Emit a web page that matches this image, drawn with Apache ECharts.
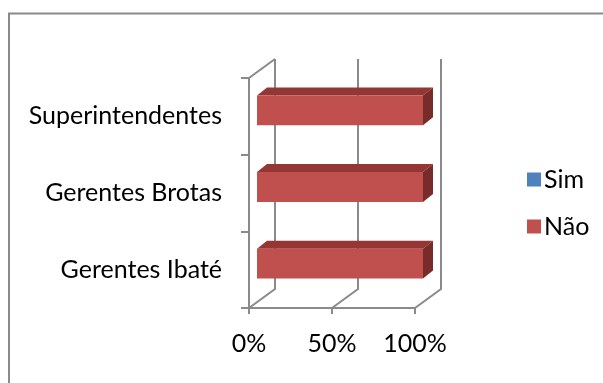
<!DOCTYPE html>
<html>
<head>
<meta charset="utf-8">
<script src="https://cdn.jsdelivr.net/npm/echarts@6/dist/echarts.min.js"></script>
<style>
  html, body { margin: 0; padding: 0; background: #fff; }
  #chart { width: 603px; height: 383px; }
</style>
</head>
<body>
<div id="chart"></div>
<script>
// Survey answers per group, in percent
const categories = ['Gerentes Ibaté', 'Gerentes Brotas', 'Superintendentes'];
const sim = [0, 0, 0];
const nao = [100, 100, 100];
const xTicks = [0, 50, 100];

// 3D look: depth of the floor/back wall and of each bar, in pixels
const WALL_DX = 26, WALL_DY = -19;
const BAR_OX = 8, BAR_OY = -6;
const BAR_DX = 10, BAR_DY = -8;
const GRID_COLOR = '#8a8a8a';
const FONT = 'Lato';
const FONT_SIZE = 25;

const chart = echarts.init(document.getElementById('chart'));

function barRenderer(front, top, side) {
  return function (params, api) {
    const start = api.value(0), end = api.value(1), cat = api.value(2);
    if (end - start <= 0) return null;
    const p0 = api.coord([start, cat]);
    const p1 = api.coord([end, cat]);
    const band = api.size([0, 1])[1];
    const h = band * 0.39;
    const x = p0[0] + BAR_OX;
    const y = p0[1] + BAR_OY - h / 2;
    const w = p1[0] - p0[0];
    return {
      type: 'group',
      children: [
        { type: 'polygon', shape: { points: [[x, y], [x + w, y], [x + w + BAR_DX, y + BAR_DY], [x + BAR_DX, y + BAR_DY]] },
          style: { fill: top } },
        { type: 'polygon', shape: { points: [[x + w, y], [x + w + BAR_DX, y + BAR_DY], [x + w + BAR_DX, y + h + BAR_DY], [x + w, y + h]] },
          style: { fill: side } },
        { type: 'rect', shape: { x: x, y: y, width: w, height: h }, style: { fill: front } }
      ]
    };
  };
}

const simData = categories.map((c, i) => [0, sim[i], i]);
const naoData = categories.map((c, i) => [sim[i], sim[i] + nao[i], i]);
const frameData = xTicks.map(v => [v, 0]);

const option = {
  animation: false,
  textStyle: { fontFamily: FONT, color: '#000' },
  graphic: [{
    type: 'rect', silent: true,
    shape: { x: 9, y: 13.5, width: 620, height: 400 },
    style: { fill: 'none', stroke: GRID_COLOR, lineWidth: 2 }
  }],
  legend: {
    data: ['Sim', 'Não'],
    orient: 'vertical',
    left: 522, top: 162,
    itemWidth: 14, itemHeight: 14, itemGap: 22,
    icon: 'rect',
    textStyle: { fontFamily: FONT, fontSize: FONT_SIZE, color: '#000', padding: [0, 0, 0, -2] }
  },
  grid: { left: 249, top: 78, width: 166, height: 230 },
  xAxis: {
    type: 'value', min: 0, max: 100, interval: 50,
    axisLine: { show: true, lineStyle: { color: GRID_COLOR, width: 2 } },
    axisTick: { show: true, length: 6, lineStyle: { color: GRID_COLOR, width: 2 } },
    splitLine: { show: false },
    axisLabel: { formatter: '{value}%', fontSize: FONT_SIZE, fontFamily: FONT, color: '#000', margin: 23 }
  },
  yAxis: {
    type: 'category', data: categories,
    axisLine: { show: true, lineStyle: { color: GRID_COLOR, width: 2 } },
    axisTick: { show: true, length: 8, lineStyle: { color: GRID_COLOR, width: 2 } },
    axisLabel: { fontSize: FONT_SIZE, fontFamily: FONT, color: '#000', margin: 27, padding: [4, 0, 0, 0] }
  },
  series: [
    {
      name: 'frame', type: 'custom', z: 1, silent: true,
      data: frameData, encode: { x: 0, y: 1 },
      renderItem: function (params, api) {
        const v = api.value(0);
        const x = api.coord([v, 0])[0];
        const cs = params.coordSys;
        const floorY = cs.y + cs.height;
        const topY = cs.y;
        const style = { stroke: GRID_COLOR, lineWidth: 2, fill: null };
        const children = [{
          type: 'polyline',
          shape: { points: [[x, floorY], [x + WALL_DX, floorY + WALL_DY], [x + WALL_DX, topY + WALL_DY]] },
          style: style
        }];
        if (v === xTicks[0]) {
          children.push({ type: 'line', shape: { x1: x, y1: topY, x2: x + WALL_DX, y2: topY + WALL_DY }, style: style });
        }
        return { type: 'group', children: children };
      }
    },
    {
      name: 'Sim', type: 'custom', z: 3,
      itemStyle: { color: '#4F81BD' },
      data: simData, encode: { x: [0, 1], y: 2 },
      renderItem: barRenderer('#4F81BD', '#3A6596', '#2F527C')
    },
    {
      name: 'Não', type: 'custom', z: 3,
      itemStyle: { color: '#C0504D' },
      data: naoData, encode: { x: [0, 1], y: 2 },
      renderItem: barRenderer('#C0504D', '#943634', '#772C2A')
    }
  ]
};

chart.setOption(option);
</script>
</body>
</html>
